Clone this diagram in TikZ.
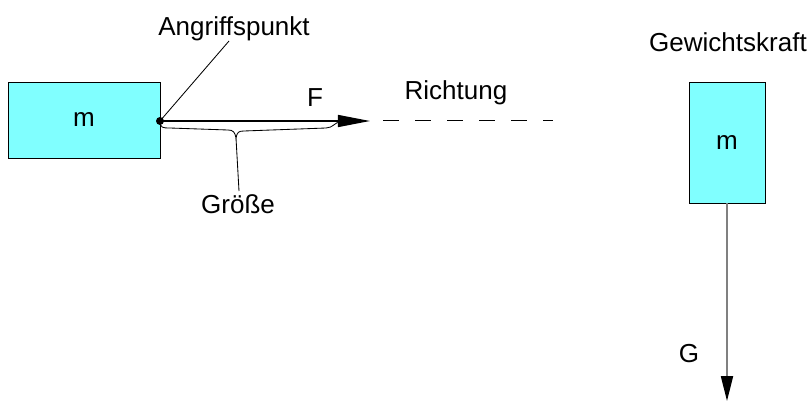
\documentclass[tikz,border=0pt]{standalone}
\usepackage{fontspec}
\setmainfont{Liberation Sans}
\usetikzlibrary{arrows.meta}
\definecolor{boxcyan}{HTML}{80FFFF}

\begin{document}
\begin{tikzpicture}[x=0.025cm, y=-0.025cm,
    every node/.style={font=\fontsize{18.5}{22}\selectfont, inner sep=0pt},
    mass/.style={draw, fill=boxcyan, line width=0.6pt},
    force/.style={-{Triangle[length=0.8cm, width=0.3cm]}, line width=1pt}]
    \useasboundingbox (0,0) rectangle (810,401);
    % links: Kraft F am Koerper
    \node[mass, minimum width=3.8cm, minimum height=1.9cm] (m1) at (84,120) {m};
    \node[circle, fill, minimum size=0.2cm] (ap) at (160,121) {};
    \node[anchor=base] (angr) at (234,35) {Angriffspunkt};
    \node[anchor=base] (F) at (315,106) {F};
    \node[anchor=base] (richt) at (456,99) {Richtung};
    \node[anchor=base] (groesse) at (238,213) {Größe};
    \coordinate (a1) at (229,41);
    \coordinate (ftip) at (370,121);
    \coordinate (d1) at (383,120);
    \coordinate (d2) at (553,120);
    \coordinate (cusp) at (236,138);
    \draw[force] (ap.center) -- (ftip);
    \draw[line width=0.6pt] (ap.center) -- (a1);
    \draw[dash pattern=on 0.4cm off 0.4cm, line width=0.6pt] (d1) -- (d2);
    \draw[line width=0.6pt] (ap.center) .. controls (160,128) and (163,128) .. (170,128)
        -- (228,130) .. controls (233,130) and (235,132) .. (cusp)
        .. controls (237,132) and (239,131) .. (244,131)
        -- (326,128) .. controls (333,128) and (335,122) .. (340,122);
    \draw[line width=0.6pt] (cusp) -- (239,191);
    % rechts: Gewichtskraft G
    \node[anchor=base] (gew) at (728,52) {Gewichtskraft};
    \node[mass, minimum width=1.9cm, minimum height=3.025cm] (m2) at (727,142.5) {m};
    \node[anchor=base] (G) at (689,362) {G};
    \coordinate (gtip) at (727,401);
    \draw[gray, line width=1.2pt, -{Triangle[length=0.62cm, width=0.3cm, color=black]}] (m2.south) -- (gtip);
\end{tikzpicture}
\end{document}
